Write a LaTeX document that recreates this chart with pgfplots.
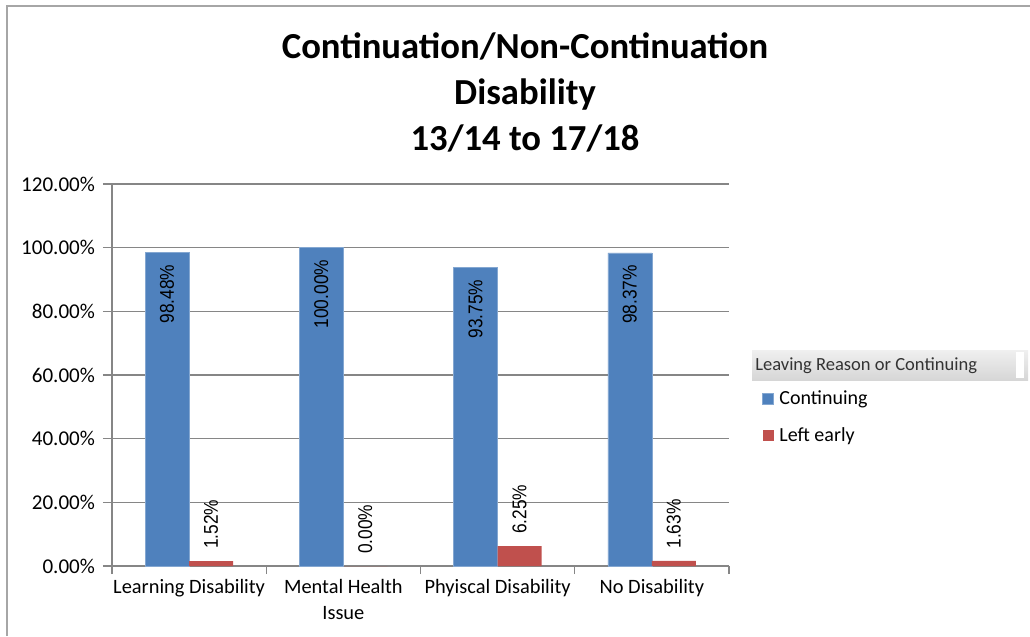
\documentclass[border=0pt]{standalone}
\usepackage{fontspec}
\setmainfont{Carlito}
\newfontfamily\arialfont{Liberation Sans}
\usepackage{graphicx}
\usepackage{pgfplots}
\pgfplotsset{compat=1.18}
\pgfplotsset{/pgf/number format/assume math mode=true}
\definecolor{cblue}{RGB}{79,129,189}
\definecolor{cred}{RGB}{192,80,77}
\definecolor{axgray}{RGB}{134,134,134}
\begin{document}
\begin{tikzpicture}[x=0.75pt,y=0.75pt]
\path[use as bounding box] (0,0) rectangle (1030,636);
\draw[gray!70, line width=1.2pt] (7,0) -- (7,630) -- (1030,630);
\node[font=\fontsize{27.5}{34.5}\selectfont\bfseries, align=center] at (525,544) {Continuation/Non-Continuation\\Disability\\13/14 to 17/18};
\begin{axis}[
  at={(84pt,52.5pt)}, anchor=south west,
  scale only axis, width=462.75pt, height=286.5pt,
  ybar=0pt, bar width=33pt,
  xmin=0.5, xmax=4.5, ymin=0, ymax=120,
  axis x line*=bottom, axis y line*=left,
  axis line style={axgray, line width=0.9pt},
  xtick={1,2,3,4},
  xticklabels={Learning Disability, Mental Health\\Issue, Phyiscal Disability, No Disability},
  xticklabel style={align=center, font=\fontsize{15.3}{19}\selectfont},
  major x tick style={draw=none},
  minor xtick={0.5,1.5,2.5,3.5,4.5},
  minor tick length=6pt,
  minor x tick style={axgray, line width=0.9pt},
  ytick={0,20,40,60,80,100,120},
  yticklabel={\pgfmathprintnumber[fixed,fixed zerofill,precision=2]{\tick}\%},
  yticklabel style={font=\fontsize{15.8}{19}\selectfont, xshift=-2.5pt},
  major tick length=6.75pt, tick align=outside,
  major y tick style={axgray, line width=0.9pt},
  ymajorgrids, grid style={axgray, line width=0.9pt},
  legend style={at={(rel axis cs:1.047,0.474)}, anchor=north west, draw=none, fill=none,
    font=\fontsize{15}{18}\selectfont, row sep=12.25pt},
  legend cell align=left,
  legend image code/.code={\fill[#1] (0pt,-4.125pt) rectangle (8.25pt,4.125pt); \path (10.5pt,0pt);},
  nodes near coords={\scalebox{1}[1.15]{\pgfmathprintnumber[fixed,fixed zerofill,precision=2]{\pgfplotspointmeta}\%}},
]
\addplot[fill=cblue, draw=cblue!70!white, line width=0.4pt,
  nodes near coords style={rotate=90, anchor=east, inner xsep=9pt, font=\arialfont\fontsize{13}{15}\selectfont, text=black}]
  coordinates {(1,98.48) (2,100) (3,93.75) (4,98.37)};
\addlegendentry{Continuing}
\addplot[fill=cred, draw=none,
  nodes near coords style={rotate=90, anchor=west, inner xsep=9pt, font=\arialfont\fontsize{13}{15}\selectfont, text=black}]
  coordinates {(1,1.52) (2,0) (3,6.25) (4,1.63)};
\addlegendentry{Left early}
\end{axis}
\shade[top color=gray!12, bottom color=gray!32] (752,256) rectangle (1028,286);
\fill[white] (1016,258) rectangle (1024,284);
\node[anchor=west, font=\fontsize{13.9}{16}\selectfont, text=black!80, inner sep=0pt] at (755,270) {Leaving Reason or Continuing};
\end{tikzpicture}
\end{document}
